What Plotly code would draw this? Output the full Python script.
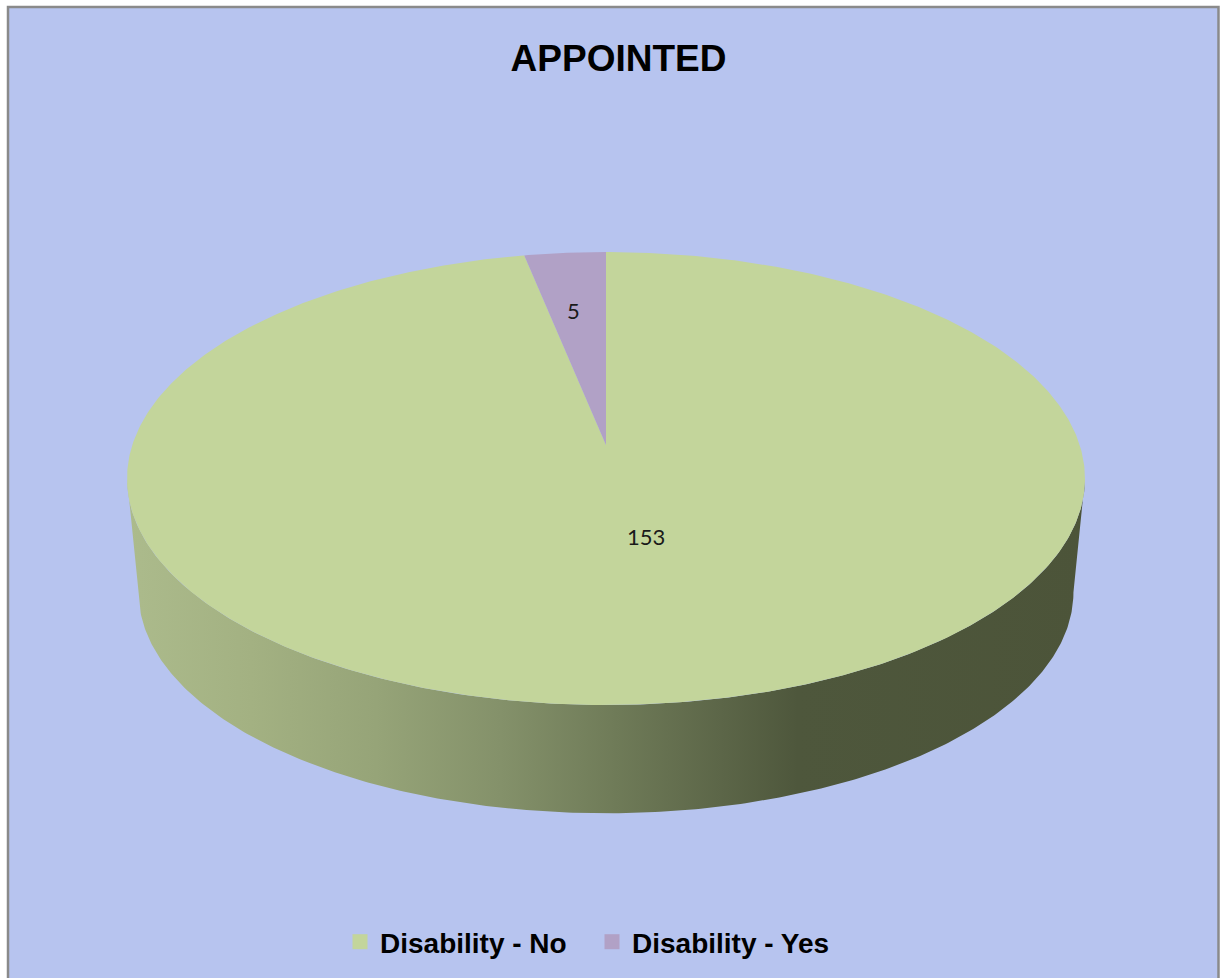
import numpy as np
import plotly.graph_objects as go

# ---- data -------------------------------------------------------------
categories = ["Disability - No", "Disability - Yes"]
values = [153, 5]
title_text = "APPOINTED"

# ---- styling ----------------------------------------------------------
top_colors = ["#C3D59B", "#B1A1C6"]
side_scale = [
    [0.00, "#ACBB8C"],
    [0.13, "#A3B182"],
    [0.26, "#96A478"],
    [0.39, "#84916A"],
    [0.51, "#6F7B58"],
    [0.62, "#5C6648"],
    [0.70, "#4E573C"],
    [1.00, "#4C5439"],
]
bg_color = "#B7C4EF"
label_radius = [0.39, 0.67]     # radial position of value labels (fraction of radius)
label_xshift = [21, -4]

W, H = 1220, 978
# pie geometry in pixel space (simple perspective projection of a disc)
CX = 606.0
Q = 0.148                       # perspective strength (far edge smaller)
TOP = dict(cy=445.0, a=473.7, b=221.5)
BOT = dict(cy=559.5, a=462.3, b=216.2)


def disc_pt(theta_deg, disc, r=1.0):
    """Project a point of the disc; theta measured clockwise from 12 o'clock."""
    t = np.radians(theta_deg)
    u = r * np.sin(t)           # to the right
    v = -r * np.cos(t)          # towards the viewer
    w = 1.0 - Q * v
    return CX + disc["a"] * u / w, disc["cy"] + disc["b"] * v / w


total = float(sum(values))
bounds = np.concatenate([[0.0], np.cumsum(values) / total * 360.0])

# visible part of the wall lies between the two silhouette tangents
t_right = np.degrees(np.arccos(-Q))
t_left = 360.0 - t_right

fig = go.Figure()

# side wall
for i, (t0, t1) in enumerate(zip(bounds[:-1], bounds[1:])):
    s0, s1 = max(t0, t_right), min(t1, t_left)
    if s1 <= s0:
        continue
    th = np.linspace(s0, s1, 300)
    xt, yt = disc_pt(th, TOP)
    xb, yb = disc_pt(th[::-1], BOT)
    xs = np.concatenate([xt, xb, xt[:1]])
    ys = np.concatenate([yt, yb, yt[:1]])
    fig.add_trace(go.Scatter(
        x=xs, y=ys, mode="lines", fill="toself",
        line=dict(width=0, color="rgba(0,0,0,0)"),
        fillgradient=dict(type="horizontal", colorscale=side_scale,
                          start=float(xs.min()), stop=float(xs.max())),
        hoverinfo="skip", showlegend=False,
    ))

# top face slices
for i, (t0, t1) in enumerate(zip(bounds[:-1], bounds[1:])):
    th = np.linspace(t0, t1, max(int((t1 - t0) * 2), 8))
    xa, ya = disc_pt(th, TOP)
    cx0, cy0 = disc_pt(0.0, TOP, r=0.0)
    xs = np.concatenate([[cx0], xa, [cx0]])
    ys = np.concatenate([[cy0], ya, [cy0]])
    fig.add_trace(go.Scatter(
        x=xs, y=ys, mode="lines", fill="toself",
        fillcolor=top_colors[i], line=dict(width=0, color=top_colors[i]),
        name=categories[i], hoverinfo="name", showlegend=False,
    ))

# value labels
for i, (t0, t1) in enumerate(zip(bounds[:-1], bounds[1:])):
    mid = 0.5 * (t0 + t1)
    lx, ly = disc_pt(mid, TOP, r=label_radius[i])
    fig.add_annotation(x=float(lx), y=float(ly), text=str(values[i]),
                       showarrow=False, xshift=label_xshift[i],
                       font=dict(family="Lato", size=22, color="#1A1A1A"))

# legend entries
for i, name in enumerate(categories):
    fig.add_trace(go.Scatter(
        x=[None], y=[None], mode="markers", name=name,
        marker=dict(symbol="square", size=15, color=top_colors[i]),
        showlegend=True,
    ))

# chart area background and frame
fig.add_shape(type="rect", xref="x", yref="y", x0=8, x1=1218.5, y0=7, y1=H + 20,
              fillcolor=bg_color, line=dict(color="#8A8A8A", width=2.5),
              layer="below")

fig.update_layout(
    width=W, height=H, autosize=False,
    margin=dict(l=0, r=0, t=0, b=0),
    paper_bgcolor="white", plot_bgcolor="rgba(0,0,0,0)",
    title=dict(text=title_text, x=618.5 / W, xanchor="center",
               y=1 - 58 / H, yanchor="middle",
               font=dict(family="Liberation Sans", size=37, color="black",
                         weight="bold")),
    xaxis=dict(range=[0, W], visible=False, fixedrange=True),
    yaxis=dict(range=[H, 0], visible=False, fixedrange=True),
    showlegend=True,
    legend=dict(orientation="h", x=340 / W, xanchor="left",
                y=1 - 942 / H, yanchor="middle",
                entrywidth=207, entrywidthmode="pixels",
                bgcolor="rgba(0,0,0,0)",
                font=dict(family="Liberation Sans", size=28, color="black",
                          weight="bold"),
                itemclick=False, itemdoubleclick=False),
)

fig.write_html("out.html")
